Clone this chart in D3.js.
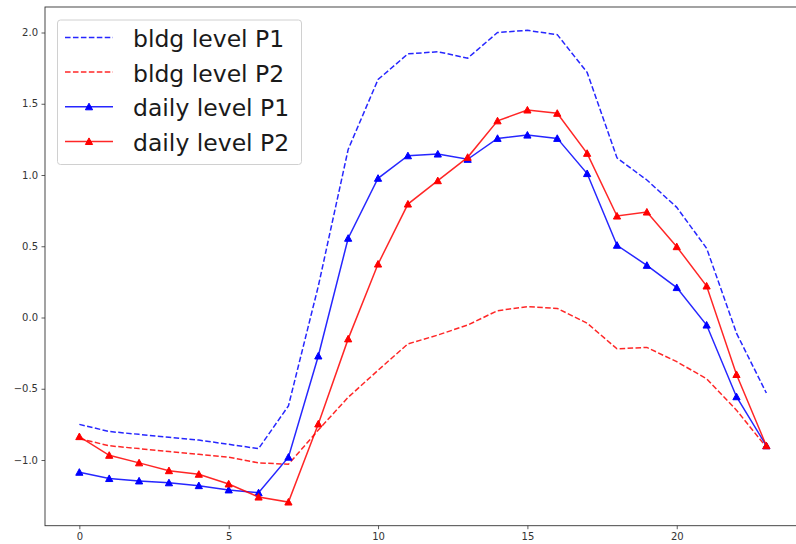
<!DOCTYPE html>
<html>
<head>
<meta charset="utf-8">
<script src="https://cdn.jsdelivr.net/npm/d3@7"></script>
<style>
  html, body { margin: 0; padding: 0; background: #fff; }
  svg { display: block; }
  text { font-family: "DejaVu Sans", sans-serif; }
</style>
</head>
<body>
<svg id="chart" width="796" height="544"></svg>
<script>
const hours = d3.range(0, 24);
const bldgP1 = [-0.75, -0.80, -0.82, -0.84, -0.86, -0.89, -0.92, -0.62, 0.22, 1.18, 1.67, 1.85, 1.865, 1.82, 2.00, 2.015, 1.985, 1.72, 1.12, 0.965, 0.773, 0.486, -0.11, -0.53];
const bldgP2 = [-0.85, -0.90, -0.92, -0.94, -0.96, -0.98, -1.02, -1.03, -0.79, -0.56, -0.37, -0.185, -0.123, -0.053, 0.048, 0.076, 0.064, -0.04, -0.22, -0.21, -0.31, -0.43, -0.65, -0.91];
const dailyP1 = [-1.086, -1.13, -1.147, -1.16, -1.18, -1.21, -1.23, -0.98, -0.27, 0.556, 0.977, 1.135, 1.147, 1.11, 1.257, 1.28, 1.257, 1.01, 0.507, 0.366, 0.21, -0.053, -0.556, -0.90];
const dailyP2 = [-0.836, -0.967, -1.02, -1.075, -1.10, -1.168, -1.26, -1.295, -0.747, -0.15, 0.375, 0.796, 0.96, 1.124, 1.38, 1.456, 1.433, 1.152, 0.712, 0.74, 0.497, 0.221, -0.40, -0.90];
const xTicks = [0, 5, 10, 15, 20];
const yTicks = [-1.0, -0.5, 0.0, 0.5, 1.0, 1.5, 2.0];

const seriesList = [
  { name: "bldg level P1", values: bldgP1, color: "#0000ff", dashed: true, marker: false },
  { name: "bldg level P2", values: bldgP2, color: "#ff0000", dashed: true, marker: false },
  { name: "daily level P1", values: dailyP1, color: "#0000ff", dashed: false, marker: true },
  { name: "daily level P2", values: dailyP2, color: "#ff0000", dashed: false, marker: true }
];

const L = 45, T = 7, R = 800.7, B = 525.7;
const svg = d3.select("#chart");

const x = d3.scaleLinear().domain([-1.15, 24.15]).range([L, R]);
const y = d3.scaleLinear().domain([-1.461, 2.179]).range([B, T]);

// axes
const fmt = d => d3.format(".1f")(d).replace("-", "\u2212");
const xAxis = d3.axisBottom(x).tickValues(xTicks).tickFormat(d3.format("d")).tickSize(3.5).tickPadding(3.5).tickSizeOuter(0);
const yAxis = d3.axisLeft(y).tickValues(yTicks).tickFormat(fmt).tickSize(3.5).tickPadding(3.5).tickSizeOuter(0);

const gx = svg.append("g").attr("transform", `translate(0,${B})`).call(xAxis);
const gy = svg.append("g").attr("transform", `translate(${L},0)`).call(yAxis);
[gx, gy].forEach(g => {
  g.select(".domain").remove();
  g.selectAll(".tick line").attr("stroke", "#333").attr("stroke-width", 0.8);
  g.selectAll(".tick text").attr("fill", "#333").style("font-size", "10px").style("font-family", "DejaVu Sans, sans-serif");
});

// frame
svg.append("rect").attr("x", L).attr("y", T).attr("width", R - L).attr("height", B - T)
  .attr("fill", "none").attr("stroke", "#333").attr("stroke-width", 0.9);

const line = d3.line().x((d, i) => x(hours[i])).y(d => y(d));
const tri = "M0,-3.6L3.6,3L-3.6,3Z";

const plot = svg.append("g");
seriesList.forEach(s => {
  plot.append("path").datum(s.values).attr("d", line)
    .attr("fill", "none").attr("stroke", s.color).attr("stroke-width", 1.5)
    .attr("stroke-opacity", 0.85)
    .attr("stroke-dasharray", s.dashed ? "5.55,2.4" : null);
  if (s.marker) {
    plot.selectAll(null).data(s.values).enter().append("path")
      .attr("d", tri)
      .attr("transform", (d, i) => `translate(${x(hours[i])},${y(d)})`)
      .attr("fill", s.color).attr("stroke", s.color).attr("stroke-width", 1);
  }
});

// legend
const lg = svg.append("g");
lg.append("rect").attr("x", 57.5).attr("y", 20).attr("width", 244).attr("height", 144.5)
  .attr("rx", 3).attr("fill", "#fff").attr("fill-opacity", 0.8)
  .attr("stroke", "#d0d0d0").attr("stroke-width", 1);
const rowY = [37.5, 72, 106.8, 141.5];
seriesList.forEach((s, i) => {
  const cy = rowY[i];
  lg.append("line").attr("x1", 65).attr("x2", 113).attr("y1", cy).attr("y2", cy)
    .attr("stroke", s.color).attr("stroke-width", 1.5).attr("stroke-opacity", 0.85)
    .attr("stroke-dasharray", s.dashed ? "5.55,2.4" : null);
  if (s.marker) {
    lg.append("path").attr("d", tri).attr("transform", `translate(89,${cy})`)
      .attr("fill", s.color).attr("stroke", s.color).attr("stroke-width", 1);
  }
  lg.append("text").attr("x", 133).attr("y", cy + 9.5)
    .style("font-size", "23.5px").attr("fill", "#1a1a1a").text(s.name);
});
</script>
</body>
</html>
